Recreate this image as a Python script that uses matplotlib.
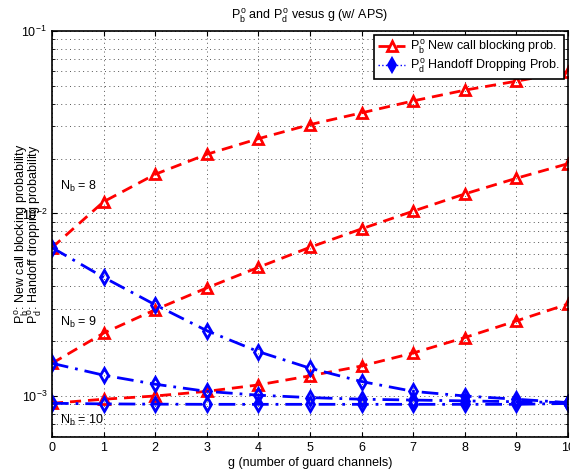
import matplotlib
matplotlib.use("Agg")
import matplotlib.pyplot as plt
from matplotlib.lines import Line2D
import numpy as np

plt.rcParams['font.family'] = ['Liberation Sans', 'DejaVu Sans']
plt.rcParams['mathtext.fontset'] = 'custom'
plt.rcParams['mathtext.rm'] = 'Liberation Sans'
plt.rcParams['mathtext.it'] = 'Liberation Sans'

g = [0, 1, 2, 3, 4, 5, 6, 7, 8, 9, 10]
pb_nb8 = [6.5e-3, 1.16e-2, 1.64e-2, 2.11e-2, 2.57e-2, 3.07e-2, 3.56e-2, 4.14e-2, 4.74e-2, 5.31e-2, 5.98e-2]
pb_nb9 = [1.51e-3, 2.21e-3, 2.97e-3, 3.91e-3, 5.07e-3, 6.53e-3, 8.24e-3, 1.03e-2, 1.28e-2, 1.56e-2, 1.875e-2]
pb_nb10 = [9.12e-4, 9.6e-4, 1.0e-3, 1.06e-3, 1.15e-3, 1.29e-3, 1.46e-3, 1.72e-3, 2.09e-3, 2.58e-3, 3.19e-3]
pd_nb8 = [6.5e-3, 4.47e-3, 3.16e-3, 2.28e-3, 1.75e-3, 1.42e-3, 1.20e-3, 1.06e-3, 1.0e-3, 9.6e-4, 9.2e-4]
pd_nb9 = [1.51e-3, 1.30e-3, 1.16e-3, 1.06e-3, 1.01e-3, 9.8e-4, 9.6e-4, 9.5e-4, 9.4e-4, 9.3e-4, 9.2e-4]
pd_nb10 = [9.12e-4, 9.05e-4, 9.02e-4, 9.0e-4, 9.0e-4, 9.0e-4, 9.0e-4, 9.0e-4, 9.0e-4, 9.0e-4, 9.1e-4]
nb_labels = ['$N_b$ = 8', '$N_b$ = 9', '$N_b$ = 10']
nb_label_pos = [(0.15, 1.40e-2), (0.15, 2.53e-3), (0.15, 7.3e-4)]

fig = plt.figure(figsize=(5.70, 4.73), dpi=100)
ax = fig.add_axes([52/570, 36/473, 516/570, 406/473])

red = '#ff0000'
blue = '#0000ff'
for pb in (pb_nb8, pb_nb9, pb_nb10):
    ax.plot(g, pb, linestyle=(0, (4, 2.5)), color=red, lw=2, marker='^',
            ms=7, mfc='none', mec=red, mew=2)
for pd in (pd_nb8, pd_nb9, pd_nb10):
    ax.plot(g, pd, linestyle=(0, (6, 2.5, 1, 2.5)), color=blue, lw=2, marker='d',
            ms=7, mfc='none', mec=blue, mew=2)

ax.set_yscale('log')
ax.set_xlim(0, 10)
ax.set_ylim(5.96e-4, 1e-1)
ax.set_xticks(g)
ax.set_yticks([1e-3, 1e-2, 1e-1])
ax.grid(True, which='major', linestyle=(0, (1, 3.5)), color='#555555', lw=0.7)
ax.grid(True, which='minor', axis='y', linestyle=(0, (1, 3.5)), color='#555555', lw=0.7)
ax.tick_params(which='both', direction='in', labelsize=9, top=True, right=True)
for s in ax.spines.values():
    s.set_linewidth(1.2)

for (tx, ty), lab in zip(nb_label_pos, nb_labels):
    ax.text(tx, ty, lab, fontsize=9, va='center', ha='left')

ax.set_title(r'$P^o_b$ and $P^o_d$ vesus g (w/ APS)', fontsize=9, pad=8)
ax.set_xlabel('g (number of guard channels)', fontsize=9, labelpad=2)
ymid = (36 + 442) / 2 / 473
fig.text(22/570, ymid, r'$P^o_b$: New call blocking probability', rotation=90,
         ha='center', va='center', fontsize=9)
fig.text(35/570, ymid, r'$P^o_d$: Handoff dropping probability', rotation=90,
         ha='center', va='center', fontsize=9)

handles = [
    Line2D([], [], color=red, lw=2, linestyle=(0, (4, 2.5)), marker='^', ms=7,
           mfc='none', mec=red, mew=2),
    Line2D([], [], color=blue, lw=1, linestyle=':', marker='d', ms=7,
           mfc=blue, mec=blue, mew=1.5),
]
leg = ax.legend(handles, [r'$P^o_b$ New call blocking prob.', r'$P^o_d$ Handoff Dropping Prob.'],
                loc='upper right', fontsize=9, frameon=True, fancybox=False,
                framealpha=1, edgecolor='black', borderaxespad=0.3,
                handlelength=2.2, handletextpad=0.4, labelspacing=0.1,
                borderpad=0.3)
leg.get_frame().set_linewidth(1.2)

fig.savefig('out.png', dpi=100)
